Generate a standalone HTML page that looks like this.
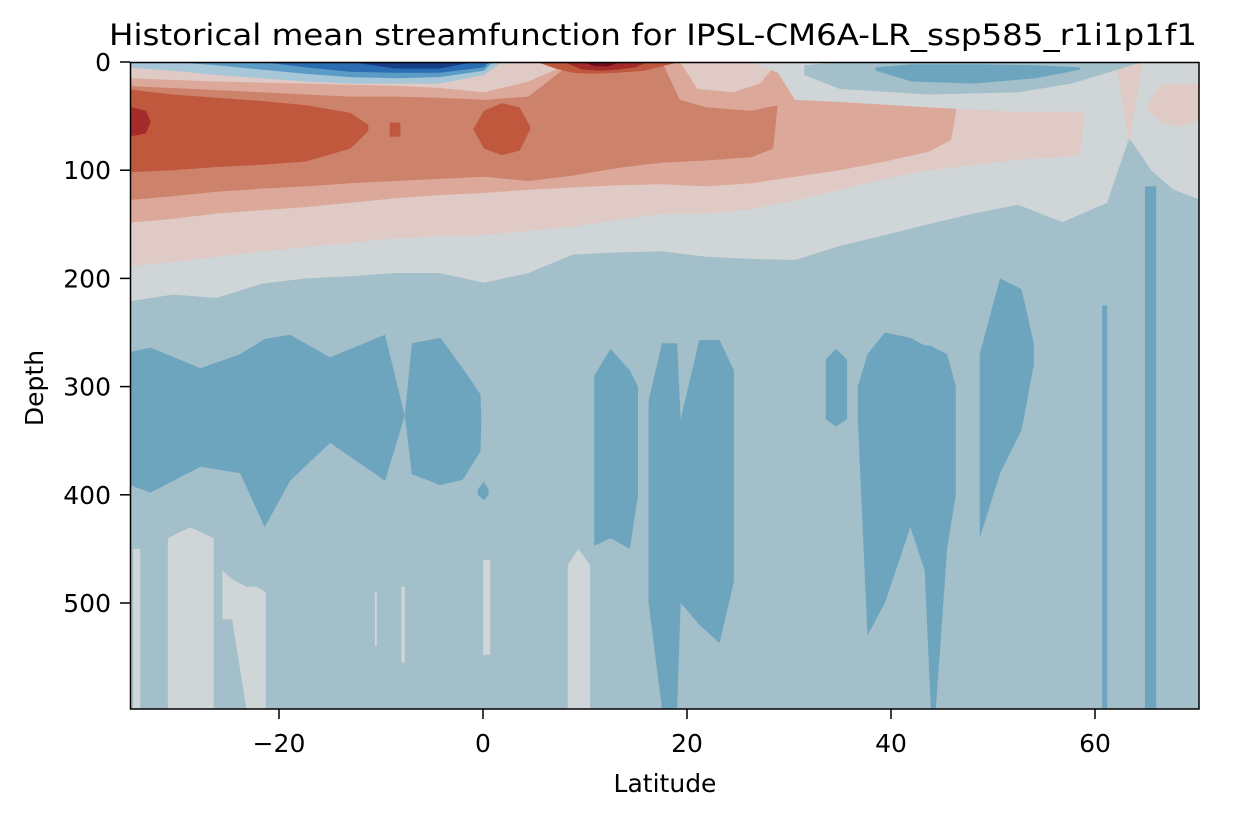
<!DOCTYPE html>
<html><head><meta charset="utf-8"><style>
html,body{margin:0;padding:0;background:#fff;}
svg{display:block;font-family:"DejaVu Sans","Liberation Sans",sans-serif;}
</style></head><body>
<svg id="chart" width="1243" height="817" viewBox="0 0 1243 817">
<defs><clipPath id="plotclip"><rect x="130" y="62" width="1069" height="647"/></clipPath></defs>
<text x="653" y="45" text-anchor="middle" font-size="29" textLength="1088" lengthAdjust="spacingAndGlyphs" fill="#000">Historical mean streamfunction for IPSL-CM6A-LR_ssp585_r1i1p1f1</text>
<g id="plot" clip-path="url(#plotclip)"></g>
<g id="axes"></g>
</svg>
<script>
// ---- data (latitude in degrees, depth in m) ----
const grayLats=[-35.2,-30.4,-26.1,-21.7,-17.35,-13,-8.6,-4.26,0.1,4.46,8.8,13.2,17.55,21.9,26.3,30.6,35,39.4,43.7,48.1,52.45,56.8,61.2,63.35,65.5,67.7,70.5];
const grayBot=[222,215,218,205,200,198,195,195,204,195,178,176,175,180,182,183,170,160,150,140,132,148,130,70,100,118,128];
const pinkLats=[-35.2,-30.4,-26.1,-21.7,-17.35,-13,-8.6,-4.26,0.1,4.46,8.8,13.2,17.55,21.9,26.3,30.6,35,39.4,43.7,48.1,52.45,56.8,58.55,59.4,62.05,63.35,64.7,65.5,70.5];
const pinkBot=[189,185,180,175,171,167,163,161,160,156,152,146,140,140,136,128,118,108,100,95,90,88,85,0,0,75,0,0,0];
const salmonLats=[-35.2,-30.4,-26.1,-21.7,-17.35,-13,-8.6,-4.26,0.1,4.46,8.8,13.2,17.55,21.9,26.3,30.6,35,39.4,43.7,45.9,47.2];
const salmonBot=[149,145,140,137,134,130,126,123,121,118,116,114,113,115,112,106,100,92,83,72,0];
const coralLats=[-35.2,-30.4,-26.1,-21.7,-17.35,-13,-8.6,-4.26,0.1,4.46,8.8,13.2,17.55,21.9,26.3,28.45,29.3];
const coralBot=[128,124,120,117,115,112,110,108,106,110,105,98,93,91,88,80,0];
const redLats=[-35.2,-30.4,-26.1,-21.7,-17.35,-13,-11.25];
const redTop=[25,30,33,36,40,47,58];
const redBot=[102,100,97,95,92,80,64];
const redBlobLats=[-0.95,0.1,1.85,3.59,4.64];
const redBlobTop=[62,45,38,42,60];
const redBlobBot=[62,80,86,82,62];
const redDotLats=[-9.15,-8.1];
const redDotTop=[56,56];
const redDotBot=[69,69];
const darkRedLats=[-35.2,-33.05,-32.6];
const darkRedTop=[40,45,55];
const darkRedBot=[70,66,56];
const salmonCapLats=[-35.2,-30.4,-26.1,-21.7,-17.35,-13,-8.6,-4.26,0.1,4.46,8.8,17.55,19.3,21.9,26.3,28.9,30.6];
const salmonCapBot=[22,24,26,28,30,32,32,33,35,32,0,0,35,42,45,40,0];
const pinkCapLats=[-35.2,-26.1,-17.35,-8.6,-4.26,0.1,4.46,8.8,19.3,21.04,24.53,27.15,28.9];
const pinkCapBot=[15,18,20,22,24,28,18,0,0,25,28,20,0];
const grayCapLats=[26.3,28.9,30.6,35,43.7,52.45,59.4,61.2];
const grayCapBot=[0,10,35,37,42,46,46,0];
const lbSurfLats=[-35.2,-30.4,-26.1,-21.7,-17.35,-13,-8.6,-4.26,0.1,1.85];
const lbSurfBot=[5,8,12,15,18,20,20,20,12,0];
const mbSurfLats=[-30.4,-26.1,-21.7,-17.35,-13,-8.6,-4.26,0.1,0.97];
const mbSurfBot=[0,3,7,11,14,15,14,8,0];
const dbSurfLats=[-21.7,-17.35,-13,-8.6,-4.26,0.1,0.54];
const dbSurfBot=[0,5,9,10,10,5,0];
const ddSurfLats=[-13,-8.6,-4.26,-0.77];
const ddSurfBot=[0,6,6,0];
const topRedLats=[5.3,7.08,8.8,10.57,13.2,15.8,17.55,19.3];
const topRedBot=[0,6,10,11,10,8,4,0];
const topDarkRedLats=[7.95,9.7,11.44,13.2,14.93,16.24];
const topDarkRedBot=[0,7,8,7,5,0];
const topDeepRedLats=[9.7,11,12.3,13.6];
const topDeepRedBot=[0,4,4,0];
const trBlueLats=[31.5,35,43.7,52.45,57.7,64.7];
const trBlueTop=[3,0,0,0,0,0];
const trBlueBot=[12,25,30,28,20,0];
const trBlue2Lats=[38.5,42,48.1,54.2,58.55];
const trBlue2Top=[5,2,2,3,5];
const trBlue2Bot=[8,18,20,15,7];
const trPinkLats=[65.1,66.4,68.15,69.9,70.8];
const trPinkTop=[40,22,20,20,20];
const trPinkBot=[45,55,60,55,55];
// deep blue mid-depth patches
const patchALats=[-34.6,-32.6,-27.7,-23.8,-21.4,-18.9,-15,-9.6,-7.67];
const patchATop=[268,264,283,270,256,252,273,252,327];
const patchABot=[391,398,374,380,430,387,352,387,327];
const patchBLats=[-7.67,-6.97,-4.18,-1.99,-0.25,-0.16];
const patchBTop=[327,260,255,283,307,330];
const patchBBot=[327,381,391,386,360,330];
const patchB2Lats=[-0.51,0.1,0.54];
const patchB2Top=[395,388,395];
const patchB2Bot=[400,405,400];
const patchCLats=[10.9,12.5,14.4,15.2];
const patchCTop=[290,265,285,300];
const patchCBot=[447,440,450,400];
const patchDLats=[16.24,17.55,19.03,19.38,21.2,23.2,24.6];
const patchDTop=[313,260,260,330,257,257,285];
const patchDBot=[500,598,598,500,520,537,480];
const patchELats=[33.6,34.6,35.7];
const patchETop=[275,265,275];
const patchEBot=[330,337,330];
const patchFLats=[36.75,37.7,39.4,41.9,43.3,43.9,44.4,45.5,46.35];
const patchFTop=[300,270,250,255,262,262,265,270,300];
const patchFBot=[330,530,500,430,470,598,598,450,400];
const patchGLats=[48.7,50.7,52.8,54];
const patchGTop=[270,200,210,260];
const patchGBot=[440,380,340,280];
const stripALats=[60.7,61.2];
const stripATop=[225,225];
const stripABot=[598,598];
const stripBLats=[64.9,66];
const stripBTop=[115,115];
const stripBBot=[598,598];
// light gray bottom patches
const gpALats=[-34.3,-33.6];
const gpATop=[450,450];
const gpABot=[598,598];
const gpBLats=[-30.9,-28.7,-26.4];
const gpBTop=[440,430,440];
const gpBBot=[598,598,598];
const gpCLats=[-25.55,-24.6,-23.2,-22.2,-21.3];
const gpCTop=[470,478,485,485,490];
const gpCBot=[515,515,598,598,598];
const gpDLats=[-10.6,-10.4];
const gpDTop=[490,490];
const gpDBot=[540,540];
const gpELats=[-8,-7.67];
const gpETop=[485,485];
const gpEBot=[555,555];
const gpFLats=[0.01,0.71];
const gpFTop=[460,460];
const gpFBot=[548,548];
const gpGLats=[8.3,9.35,10.5];
const gpGTop=[465,450,465];
const gpGBot=[598,598,598];
// ticks
const xTicks=[-20,0,20,40,60];
const xTickLabels=["\u221220","0","20","40","60"];
const yTicks=[0,100,200,300,400,500];
const yTickLabels=["0","100","200","300","400","500"];

// ---- scales ----
function xs(lat){return 483+10.2*lat;}
function ys(d){return 62+1.082*d;}
const NS="http://www.w3.org/2000/svg";
const plot=document.getElementById('plot');
const axes=document.getElementById('axes');
function band(lats,tops,bots,color,name){
  const pts=[];
  for(let i=0;i<lats.length;i++){pts.push(xs(lats[i]).toFixed(1)+","+ys(tops?tops[i]:0).toFixed(1));}
  for(let i=lats.length-1;i>=0;i--){pts.push(xs(lats[i]).toFixed(1)+","+ys(bots[i]).toFixed(1));}
  if(!tops){pts.unshift(xs(lats[0]).toFixed(1)+","+ys(-5).toFixed(1));pts.splice(lats.length,0,xs(lats[lats.length-1]).toFixed(1)+","+ys(-5).toFixed(1));}
  const p=document.createElementNS(NS,'polygon');
  p.setAttribute('points',pts.join(' '));
  p.setAttribute('fill',color);
  
  
  plot.appendChild(p);
}
const bg=document.createElementNS(NS,'rect');
bg.setAttribute('x',130);bg.setAttribute('y',62);bg.setAttribute('width',1069);bg.setAttribute('height',647);
bg.setAttribute('fill','#a2bfca');


plot.appendChild(bg);

band(grayLats,null,grayBot,'#d0d5d8','neutral-level');
band(pinkLats,null,pinkBot,'#e0cac5','light-pink-level');
band(salmonLats,null,salmonBot,'#dca899','salmon-level');
band(coralLats,null,coralBot,'#cd826c','coral-level');
band(redLats,redTop,redBot,'#c0583d','red-level-core');
band(redBlobLats,redBlobTop,redBlobBot,'#c0583d','red-level-equator');
band(redDotLats,redDotTop,redDotBot,'#c0583d','red-level-dot');
band(darkRedLats,darkRedTop,darkRedBot,'#a52b2a','dark-red-level');
band(salmonCapLats,null,salmonCapBot,'#dca899','salmon-surface-level');
band(pinkCapLats,null,pinkCapBot,'#e0cac5','pink-surface-level');
band(grayCapLats,null,grayCapBot,'#d0d5d8','neutral-surface-level');
band(trBlueLats,trBlueTop,trBlueBot,'#a2bfca','north-surface-blue');
band(trBlue2Lats,trBlue2Top,trBlue2Bot,'#6ea5be','north-surface-mid-blue');
band(trPinkLats,trPinkTop,trPinkBot,'#e0cac5','arctic-pink-blob');
band(lbSurfLats,null,lbSurfBot,'#a7c7d8','south-surface-light-blue');
band(mbSurfLats,null,mbSurfBot,'#5b9cc6','south-surface-blue');
band(dbSurfLats,null,dbSurfBot,'#2a6db2','south-surface-dark-blue');
band(ddSurfLats,null,ddSurfBot,'#183f88','south-surface-deepest-blue');
band(topRedLats,null,topRedBot,'#c0583d','north-surface-red');
band(topDarkRedLats,null,topDarkRedBot,'#a52b2a','north-surface-dark-red');
band(topDeepRedLats,null,topDeepRedBot,'#6e0b1f','north-surface-deepest-red');
band(patchALats,patchATop,patchABot,'#6ea5be','blue-patch-south');
band(patchBLats,patchBTop,patchBBot,'#6ea5be','blue-patch-equator');
band(patchB2Lats,patchB2Top,patchB2Bot,'#6ea5be','blue-patch-small');
band(patchCLats,patchCTop,patchCBot,'#6ea5be','blue-patch-12n');
band(patchDLats,patchDTop,patchDBot,'#6ea5be','blue-patch-18n');
band(patchELats,patchETop,patchEBot,'#6ea5be','blue-patch-34n');
band(patchFLats,patchFTop,patchFBot,'#6ea5be','blue-patch-40n');
band(patchGLats,patchGTop,patchGBot,'#6ea5be','blue-patch-51n');
band(stripALats,stripATop,stripABot,'#6ea5be','blue-strip-61n');
band(stripBLats,stripBTop,stripBBot,'#6ea5be','blue-strip-65n');
band(gpALats,gpATop,gpABot,'#d0d5d8','gray-patch-a');
band(gpBLats,gpBTop,gpBBot,'#d0d5d8','gray-patch-b');
band(gpCLats,gpCTop,gpCBot,'#d0d5d8','gray-patch-c');
band(gpDLats,gpDTop,gpDBot,'#d0d5d8','gray-patch-d');
band(gpELats,gpETop,gpEBot,'#d0d5d8','gray-patch-e');
band(gpFLats,gpFTop,gpFBot,'#d0d5d8','gray-patch-f');
band(gpGLats,gpGTop,gpGBot,'#d0d5d8','gray-patch-g');

// ---- axes ----
const frame=document.createElementNS(NS,'rect');
frame.setAttribute('x',130.5);frame.setAttribute('y',62.5);frame.setAttribute('width',1068.5);frame.setAttribute('height',646.5);
frame.setAttribute('fill','none');frame.setAttribute('stroke','#000');frame.setAttribute('stroke-width','1.5');


axes.appendChild(frame);
xTicks.forEach((t,i)=>{
  const x=xs(t);
  const l=document.createElementNS(NS,'line');
  l.setAttribute('x1',x);l.setAttribute('x2',x);l.setAttribute('y1',709);l.setAttribute('y2',719);l.setAttribute('stroke','#000');l.setAttribute('stroke-width','1.5');
  
  
  axes.appendChild(l);
  const tx=document.createElementNS(NS,'text');
  tx.setAttribute('x',x);tx.setAttribute('y',752);tx.setAttribute('text-anchor','middle');tx.setAttribute('font-size','25');
  tx.textContent=xTickLabels[i];
  
  
  axes.appendChild(tx);
});
yTicks.forEach((t,i)=>{
  const y=ys(t);
  const l=document.createElementNS(NS,'line');
  l.setAttribute('x1',120);l.setAttribute('x2',130);l.setAttribute('y1',y);l.setAttribute('y2',y);l.setAttribute('stroke','#000');l.setAttribute('stroke-width','1.5');
  
  
  axes.appendChild(l);
  const tx=document.createElementNS(NS,'text');
  tx.setAttribute('x',111);tx.setAttribute('y',y+9);tx.setAttribute('text-anchor','end');tx.setAttribute('font-size','25');
  tx.textContent=yTickLabels[i];
  
  
  axes.appendChild(tx);
});
const xl=document.createElementNS(NS,'text');
xl.setAttribute('x',665);xl.setAttribute('y',792);xl.setAttribute('text-anchor','middle');xl.setAttribute('font-size','25');
xl.textContent='Latitude';


axes.appendChild(xl);
const yl=document.createElementNS(NS,'text');
yl.setAttribute('x',0);yl.setAttribute('y',0);yl.setAttribute('text-anchor','middle');yl.setAttribute('font-size','25');
yl.setAttribute('transform','translate(43,388) rotate(-90)');
yl.textContent='Depth';


axes.appendChild(yl);
</script>
</body></html>
